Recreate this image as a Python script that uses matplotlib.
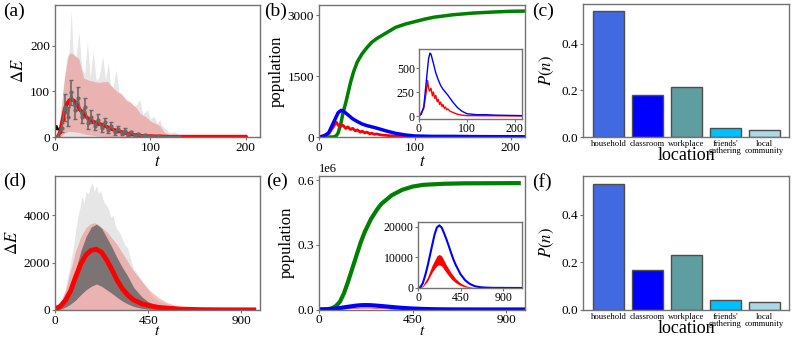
import matplotlib
matplotlib.use("Agg")
import matplotlib.pyplot as plt

plt.rcParams['font.family'] = ['Liberation Serif', 'DejaVu Serif']
plt.rcParams['mathtext.fontset'] = 'stix'

# ---- data ----
# (a) small network
a_gray_t = [0, 4, 8, 12, 15, 17, 19, 22, 25, 28, 31, 34, 37, 40, 43, 46, 50, 53, 56, 58, 61, 64, 67, 70, 74,
            78, 82, 85, 89, 92, 97, 100, 104, 107, 110, 112, 115, 120, 125, 130, 140, 150, 160, 200]
a_gray_max = [0, 20, 100, 170, 190, 279, 185, 175, 231, 150, 140, 210, 130, 191, 125, 130, 177, 125, 166, 115,
              110, 148, 100, 95, 85, 80, 67, 70, 82, 50, 60, 40, 45, 30, 38, 25, 20, 10, 12, 6, 5, 4, 3, 2]
a_band_t = [0, 5, 10, 14, 17, 25, 30, 35, 45, 55, 60, 65, 70, 75, 80, 85, 90, 95, 100, 110, 115, 120, 130, 200]
a_band_hi = [0, 30, 130, 180, 185, 172, 130, 125, 120, 122, 110, 100, 93, 80, 75, 65, 50, 45, 35, 25, 10, 5, 3, 2]
a_band_lo = [0, 0, 8, 12, 12, 10, 7, 5, 2, 0, 0, 0, 0, 0, 0, 0, 0, 0, 0, 0, 0, 0, 0, 0]
a_err_t = [3, 7, 10, 14, 17, 21, 24, 28, 31, 35, 38, 42, 45, 49, 52, 56, 59, 63, 66, 70, 73, 77, 80, 84, 87,
           91, 94, 98, 101, 105, 108, 115, 130]
a_err_mean = [0, 20, 65, 45, 98, 60, 85, 45, 65, 30, 45, 25, 38, 20, 32, 15, 25, 10, 18, 8, 14, 5, 10, 3, 6,
              2, 4, 1, 3, 1, 2, 1, 1]
a_err_sd = [0, 10, 30, 20, 28, 20, 25, 15, 20, 12, 15, 10, 12, 8, 10, 6, 8, 5, 6, 4, 5, 3, 4, 2, 3,
            2, 2, 1, 1, 1, 1, 1, 1]
a_mean_t = [0, 3, 5, 8, 10, 13, 15, 17, 20, 23, 27, 30, 35, 40, 45, 50, 55, 60, 65, 70, 75, 80, 85, 90,
            100, 110, 120, 150, 200]
a_mean = [0, 0, 10, 40, 60, 75, 81, 83, 80, 70, 58, 50, 40, 34, 30, 27, 22, 17, 14, 11, 8, 6, 4, 3,
          2, 1.5, 1, 1, 1]

# (b) populations, small network
b_green_t = [0, 15, 18, 20, 23, 25, 28, 30, 33, 36, 40, 45, 50, 55, 60, 65, 70, 80, 90, 100, 110, 120,
             140, 160, 180, 200, 215]
b_green = [0, 0, 30, 100, 350, 590, 850, 1050, 1350, 1600, 1850, 2050, 2200, 2330, 2420, 2490, 2560,
           2700, 2780, 2840, 2900, 2950, 3010, 3050, 3075, 3095, 3100]
b_blue_t = [0, 5, 10, 15, 20, 23, 25, 30, 35, 40, 45, 50, 55, 60, 70, 80, 90, 100, 120, 140, 160, 215]
b_blue = [0, 20, 100, 350, 600, 655, 645, 550, 450, 380, 320, 280, 250, 220, 150, 90, 50, 25, 15, 15, 10, 5]
b_red_t = [0, 10, 15, 18, 20, 22, 25, 28, 30, 33, 35, 38, 40, 43, 45, 48, 50, 53, 55, 58, 60, 65, 70,
           80, 90, 100, 215]
b_red = [0, 80, 250, 370, 290, 260, 290, 210, 250, 185, 215, 150, 175, 120, 145, 100, 120, 80, 95, 65,
         75, 50, 40, 20, 10, 5, 2]

# (d) large network
d_gray_t = [0, 25, 50, 75, 90, 100, 110, 120, 130, 140, 150, 160, 170, 180, 190, 200, 210, 220, 230, 240,
            250, 260, 270, 280, 290, 300, 310, 320, 330, 340, 350, 360, 370, 380, 390, 400, 420, 440, 460,
            480, 500, 520, 550, 600, 650, 700, 800, 960]
d_gray_max = [0, 250, 900, 2000, 2700, 3400, 3900, 4300, 4800, 4500, 5000, 4900, 5200, 5375, 5000, 5250,
              4900, 5040, 4700, 4500, 4400, 4200, 3900, 4000, 3600, 3400, 3300, 3100, 2900, 2700, 2640,
              2300, 2000, 1700, 1650, 1500, 1240, 950, 680, 500, 380, 320, 220, 140, 70, 20, 5, 0]
d_pink_t = [0, 25, 50, 70, 100, 125, 150, 175, 190, 210, 250, 298, 340, 379, 420, 459, 500, 539, 580,
            620, 700, 960]
d_pink_hi = [0, 300, 800, 1500, 2500, 3100, 3480, 3650, 3680, 3600, 3300, 2780, 2200, 1650, 1200, 815,
             520, 324, 200, 110, 30, 0]
d_dark_t = [0, 25, 50, 75, 100, 125, 150, 175, 200, 225, 250, 275, 300, 325, 350, 380, 420, 450, 500,
            550, 600, 700, 960]
d_dark_hi = [0, 150, 450, 1000, 1700, 2500, 3100, 3500, 3620, 3450, 3050, 2650, 2200, 1800, 1450, 950,
             550, 350, 150, 60, 20, 5, 0]
d_dark_lo = [0, 30, 120, 250, 420, 650, 850, 1000, 1095, 1000, 850, 700, 530, 380, 260, 150, 70, 40,
             10, 0, 0, 0, 0]
d_mean_t = [0, 25, 50, 75, 100, 125, 150, 175, 200, 225, 250, 275, 300, 325, 350, 380, 420, 460, 500,
            540, 600, 700, 800, 960]
d_mean = [50, 150, 400, 800, 1400, 1950, 2330, 2520, 2560, 2430, 2100, 1700, 1250, 900, 640, 420, 260,
          175, 110, 80, 40, 15, 8, 5]

# (e) populations, large network
e_green_t = [0, 40, 60, 80, 100, 120, 140, 160, 180, 200, 220, 250, 280, 300, 350, 400, 450, 500, 600,
             700, 960]
e_green = [0, 1000, 5000, 15000, 35000, 75000, 130000, 190000, 250000, 310000, 360000, 420000, 465000,
           490000, 530000, 555000, 570000, 578000, 583000, 585000, 586000]
e_blue_t = [0, 25, 50, 75, 100, 125, 150, 175, 200, 225, 250, 275, 300, 325, 350, 375, 400, 450, 500,
            550, 600, 650, 700, 800, 1100]
e_blue = [0, 300, 1500, 4000, 7000, 10500, 14000, 17500, 19800, 20500, 19800, 18000, 16000, 13800,
          11500, 9300, 7500, 4500, 2500, 1300, 600, 300, 150, 50, 0]
e_red_t = [0, 50, 100, 150, 200, 225, 250, 300, 350, 400, 450, 500, 550, 600, 700, 800, 1100]
e_red_hi = [0, 800, 3500, 7500, 10500, 11000, 10500, 7500, 5000, 3000, 1600, 800, 350, 150, 40, 0, 0]
e_red_lo = [0, 400, 2200, 5200, 7300, 7600, 7200, 5000, 3000, 1700, 800, 350, 150, 50, 0, 0, 0]

# (c), (f) location shares
locations = ['household', 'classroom', 'workplace', "friends'\ngathering", 'local\ncommunity']
loc_colors = ['royalblue', 'blue', 'cadetblue', 'deepskyblue', 'lightblue']
c_share = [0.54, 0.18, 0.215, 0.037, 0.03]
f_share = [0.53, 0.168, 0.23, 0.04, 0.033]

W, H = 793, 342
fig = plt.figure(figsize=(W / 100, H / 100), dpi=100)


def box(x0, y0, x1, y1):
    # pixel box -> figure coords
    return [x0 / W, 1 - y1 / H, (x1 - x0) / W, (y1 - y0) / H]


def style(ax, fs=9.5):
    for s in ax.spines.values():
        s.set_color('0.45')
        s.set_linewidth(1.0)
    ax.tick_params(labelsize=fs, color='0.45', length=2.5, width=0.8, pad=1)
    ax.set_facecolor('white')


# ---- (a) ----
ax = fig.add_axes(box(55, 5, 260, 137))
ax.fill_between(a_gray_t, 0, a_gray_max, color='0.9', lw=0)
ax.fill_between(a_band_t, a_band_lo, a_band_hi, color='lightcoral', alpha=0.5, lw=0)
ax.errorbar(a_err_t, a_err_mean, yerr=a_err_sd, color='dimgray', marker='.', ms=4, lw=1.2,
            elinewidth=1.2, capsize=1.5)
ax.plot(a_mean_t, a_mean, color='red', lw=2.5, marker='.', ms=3)
ax.plot([1.5], [22], marker='^', color='black', ms=3)
ax.set_xlim(0, 215)
ax.set_ylim(0, 290)
ax.set_xticks([0, 100, 200])
ax.set_yticks([0, 100, 200])
ax.set_xlabel('$t$', fontsize=12, labelpad=0)
ax.set_ylabel(r'$\Delta E$', fontsize=12, labelpad=2)
style(ax)

# ---- (b) ----
ax = fig.add_axes(box(319, 5, 525, 137))
ax.plot(b_green_t, b_green, color='green', lw=2.5)
ax.plot(b_red_t, b_red, color='red', lw=2)
ax.plot(b_blue_t, b_blue, color='blue', lw=2.5)
ax.set_xlim(0, 215)
ax.set_ylim(0, 3250)
ax.set_xticks([0, 100, 200])
ax.set_yticks([0, 1500, 3000])
ax.set_xlabel('$t$', fontsize=12, labelpad=0)
ax.set_ylabel('population', fontsize=12, labelpad=2)
style(ax)

ins = fig.add_axes(box(419, 49, 522, 119))
ins.plot(b_red_t, b_red, color='red', lw=1)
ins.plot(b_blue_t, b_blue, color='blue', lw=1)
ins.set_xlim(0, 215)
ins.set_ylim(-30, 698)
ins.set_xticks([0, 100, 200])
ins.set_yticks([0, 250, 500])
style(ins, fs=8.5)
ins.tick_params(length=2, pad=1)


def bar_panel(rect, shares, ymax):
    ax = fig.add_axes(rect)
    pos = range(len(locations))
    ax.bar(pos, shares, width=0.8, color=loc_colors, edgecolor='0.3', linewidth=1)
    ax.set_xticks(list(pos))
    ax.set_xticklabels(locations, fontsize=6.2, linespacing=0.95)
    ax.set_xlim(-0.66, 4.64)
    ax.set_ylim(0, ymax)
    ax.set_yticks([0.0, 0.2, 0.4])
    ax.set_xlabel('location', fontsize=13, labelpad=-6)
    ax.set_ylabel('$P(n)$', fontsize=12, labelpad=4)
    style(ax)
    ax.tick_params(axis='x', length=0, pad=2, labelsize=6.2)
    return ax


bar_panel(box(583, 4, 789, 137), c_share, 0.572)

# ---- (d) ----
ax = fig.add_axes(box(55, 176, 260, 310))
ax.fill_between(d_gray_t, 0, d_gray_max, color='0.9', lw=0)
ax.fill_between(d_pink_t, 0, d_pink_hi, color='lightcoral', alpha=0.5, lw=0)
ax.fill_between(d_dark_t, d_dark_lo, d_dark_hi, color='dimgray', alpha=0.85, lw=0)
ax.plot(d_mean_t, d_mean, color='red', lw=3.5)
ax.set_xlim(0, 990)
ax.set_ylim(0, 5650)
ax.set_xticks([0, 450, 900])
ax.set_yticks([0, 2000, 4000])
ax.set_xlabel('$t$', fontsize=11, labelpad=-1)
ax.set_ylabel(r'$\Delta E$', fontsize=12, labelpad=2)
style(ax)

# ---- (e) ----
ax = fig.add_axes(box(319, 176, 525, 309.5))
ax.plot(e_green_t, e_green, color='green', lw=3)
ax.fill_between(e_red_t, e_red_lo, e_red_hi, color='red', lw=0)
ax.plot(e_blue_t, e_blue, color='blue', lw=3)
ax.set_xlim(0, 990)
ax.set_ylim(0, 619000)
ax.set_xticks([0, 450, 900])
ax.set_yticks([0, 300000, 600000])
ax.ticklabel_format(axis='y', style='sci', scilimits=(6, 6))
ax.set_xlabel('$t$', fontsize=11, labelpad=-1)
ax.set_ylabel('population', fontsize=12, labelpad=2)
style(ax)
ax.yaxis.get_offset_text().set_fontsize(9)

ins = fig.add_axes(box(418, 221.7, 522, 288))
ins.fill_between(e_red_t, e_red_lo, e_red_hi, color='red', lw=0)
ins.plot(e_blue_t, e_blue, color='blue', lw=1.5)
ins.set_xlim(0, 1100)
ins.set_ylim(0, 21700)
ins.set_xticks([0, 450, 900])
ins.set_yticks([0, 10000, 20000])
style(ins, fs=8.5)
ins.tick_params(length=2, pad=1)

bar_panel(box(583, 176, 789, 310), f_share, 0.564)

# panel letters
for lab, x, y in [('(a)', 3, 3), ('(b)', 264, 3), ('(c)', 532, 3),
                  ('(d)', 3, 173), ('(e)', 266, 173), ('(f)', 532, 173)]:
    fig.text(x / W, 1 - y / H, lab, fontsize=14, va='top', ha='left')

fig.savefig('out.png', dpi=100)
